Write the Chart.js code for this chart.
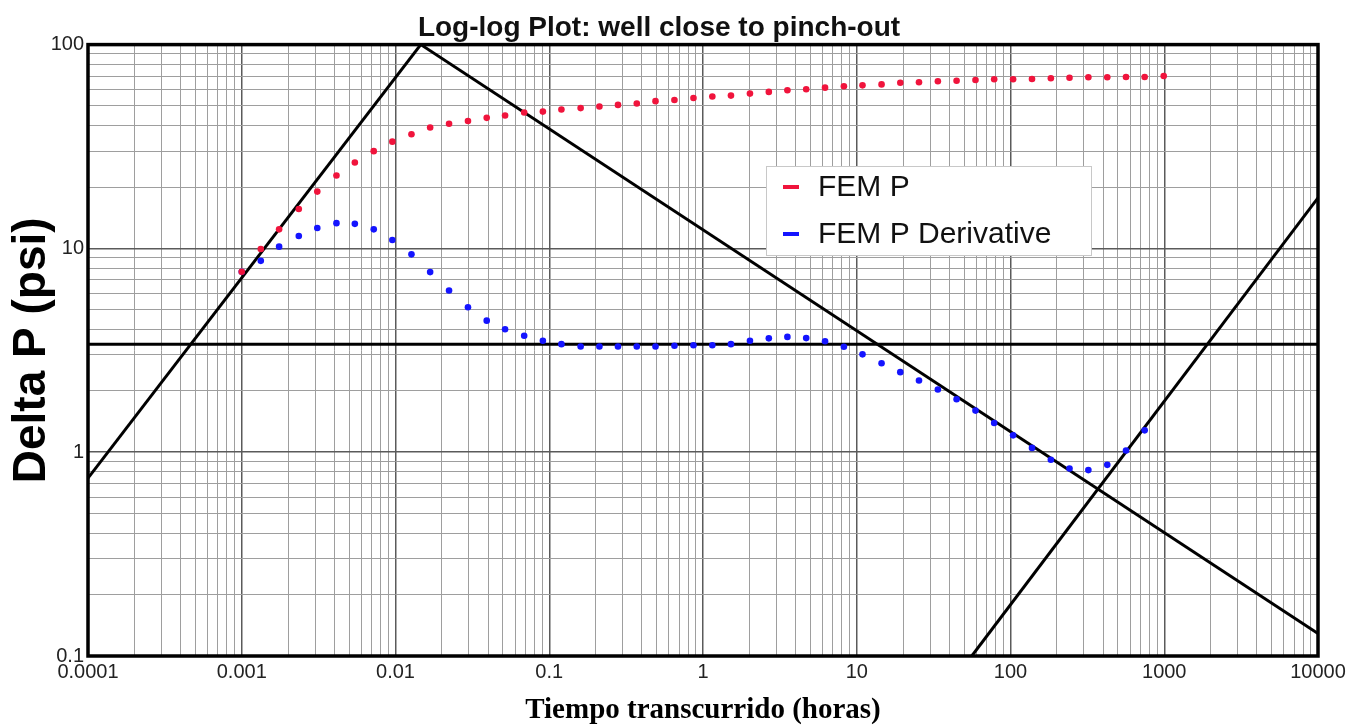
<!DOCTYPE html>
<html>
<head>
<meta charset="utf-8">
<title>Log-log Plot: well close to pinch-out</title>
<script src="https://cdn.jsdelivr.net/npm/chart.js@4.4.1/dist/chart.umd.min.js"></script>
<style>
  html, body { margin: 0; padding: 0; background: #fff; }
  #wrap { position: relative; width: 1351px; height: 728px; }
</style>
</head>
<body>
<div id="wrap"><canvas id="loglog"></canvas></div>
<script>
// elapsed time (hours)
const timeHours = [
  0.00100, 0.00133, 0.00175, 0.00235, 0.00310, 0.00413, 0.00544, 0.00722, 0.00954, 0.0127,
  0.0168, 0.0223, 0.0296, 0.0392, 0.0516, 0.0687, 0.0909, 0.120, 0.160, 0.212,
  0.280, 0.371, 0.491, 0.652, 0.867, 1.15, 1.52, 2.02, 2.68, 3.54,
  4.69, 6.22, 8.25, 10.9, 14.5, 19.2, 25.4, 33.7, 44.6, 59.2,
  78.3, 104, 138, 183, 242, 321, 426, 564, 746, 992
];

// FEM pressure drop (psi)
const femP = [
  7.68, 9.93, 12.4, 15.6, 19.0, 22.8, 26.4, 30.0, 33.4, 36.3,
  39.2, 40.9, 42.2, 43.7, 44.9, 46.4, 46.9, 48.0, 48.8, 49.7,
  50.6, 51.4, 52.8, 53.5, 54.7, 55.6, 56.2, 57.5, 58.6, 59.7,
  60.4, 61.5, 62.5, 63.1, 63.8, 65.0, 65.3, 66.1, 66.5, 67.0,
  67.6, 67.6, 67.8, 68.4, 68.8, 69.2, 69.2, 69.4, 69.4, 70.1
];

// FEM pressure derivative (psi), same times, one point shorter
const femPDerivative = [
  7.68, 8.69, 10.2, 11.5, 12.6, 13.3, 13.2, 12.4, 11.0, 9.35,
  7.65, 6.22, 5.14, 4.42, 4.01, 3.73, 3.52, 3.39, 3.30, 3.30,
  3.30, 3.30, 3.30, 3.33, 3.35, 3.35, 3.39, 3.52, 3.62, 3.68,
  3.63, 3.50, 3.29, 3.02, 2.73, 2.47, 2.25, 2.03, 1.82, 1.60,
  1.39, 1.21, 1.05, 0.918, 0.832, 0.817, 0.867, 1.02, 1.28
];

// straight-line guides (end points)
const unitSlopeT = [0.0001, 0.0146];
const unitSlopeP = [0.746, 100];
const radialFlowT = [0.0001, 10000];
const radialFlowP = [3.39, 3.39];
const halfSlopeT = [0.0146, 10000];
const halfSlopeP = [100, 0.129];
const pinchOutT = [56.0, 10000];
const pinchOutP = [0.1, 17.7];

// axes
const xDecades = [0.0001, 0.001, 0.01, 0.1, 1, 10, 100, 1000, 10000];
const xTickLabels = ["0.0001", "0.001", "0.01", "0.1", "1", "10", "100", "1000", "10000"];
const yDecades = [0.1, 1, 10, 100];
const yTickLabels = ["0.1", "1", "10", "100"];
const minorSteps = [2, 3, 4, 5, 6, 7, 8, 9];

const sans = "'Liberation Sans', Arial, sans-serif";
const serif = "'Liberation Serif', 'Times New Roman', serif";

function toPoints(xs, ys) {
  return ys.map((y, i) => ({ x: xs[i], y: y }));
}

function logTicks(decades) {
  const ticks = [];
  decades.forEach((d, i) => {
    ticks.push({ value: d, major: true, idx: i });
    if (i < decades.length - 1) {
      minorSteps.forEach((m) => ticks.push({ value: d * m, major: false }));
    }
  });
  return ticks;
}

function guide(xs, ys) {
  return {
    data: toPoints(xs, ys),
    showLine: true,
    borderColor: "#000",
    borderWidth: 3,
    pointRadius: 0,
    fill: false,
  };
}

const gridColor = (ctx) => (ctx.tick && ctx.tick.major ? "#5a5a5a" : "#9e9e9e");
const gridWidth = (ctx) => (ctx.tick && ctx.tick.major ? 1.5 : 1);

// frame round the plot + legend box
const frameAndLegend = {
  id: "frameAndLegend",
  afterDraw(chart) {
    const { ctx, chartArea: a } = chart;
    ctx.save();
    ctx.strokeStyle = "#000";
    ctx.lineWidth = 3.5;
    ctx.strokeRect(a.left, a.top, a.right - a.left, a.bottom - a.top);

    const lx = 766, ly = 166, lw = 325, lh = 89;
    ctx.fillStyle = "#fff";
    ctx.fillRect(lx, ly, lw, lh);
    ctx.strokeStyle = "#c8c8c8";
    ctx.lineWidth = 1;
    ctx.strokeRect(lx + 0.5, ly + 0.5, lw, lh);

    const entries = [
      { text: "FEM P", color: "#f0143c", y: 188 },
      { text: "FEM P Derivative", color: "#1414ff", y: 235 },
    ];
    ctx.font = "30px " + sans;
    ctx.textBaseline = "middle";
    ctx.textAlign = "left";
    entries.forEach((e) => {
      ctx.fillStyle = e.color;
      ctx.fillRect(783, e.y - 3, 16, 4);
      ctx.fillStyle = "#111";
      ctx.fillText(e.text, 818, e.y);
    });
    ctx.restore();
  },
};

new Chart(document.getElementById("loglog"), {
  type: "scatter",
  data: {
    datasets: [
      {
        label: "FEM P",
        data: toPoints(timeHours, femP),
        backgroundColor: "#f0143c",
        borderWidth: 0,
        pointRadius: 3.3,
      },
      {
        label: "FEM P Derivative",
        data: toPoints(timeHours, femPDerivative),
        backgroundColor: "#1414ff",
        borderWidth: 0,
        pointRadius: 3.3,
      },
      guide(unitSlopeT, unitSlopeP),
      guide(radialFlowT, radialFlowP),
      guide(halfSlopeT, halfSlopeP),
      guide(pinchOutT, pinchOutP),
    ],
  },
  options: {
    responsive: true,
    maintainAspectRatio: false,
    animation: false,
    layout: { padding: { left: 0, right: 33, top: 0, bottom: 0 } },
    plugins: {
      legend: { display: false },
      tooltip: { enabled: false },
      title: {
        display: true,
        text: "Log-log Plot: well close to pinch-out",
        color: "#111",
        font: { family: sans, size: 28, weight: "bold", lineHeight: 1.2 },
        padding: { top: 11, bottom: 0 },
      },
    },
    scales: {
      x: {
        type: "logarithmic",
        min: 0.0001,
        max: 10000,
        afterBuildTicks: (axis) => { axis.ticks = logTicks(xDecades); },
        afterFit: (axis) => { axis.height = 72; },
        border: { display: false },
        grid: { color: gridColor, lineWidth: gridWidth, drawTicks: false },
        ticks: {
          autoSkip: false,
          maxRotation: 0,
          padding: 4,
          color: "#222",
          font: { family: sans, size: 20 },
          callback: (value, index, ticks) =>
            ticks[index].major ? xTickLabels[ticks[index].idx] : "",
        },
        title: {
          display: true,
          text: "Tiempo transcurrido (horas)",
          color: "#000",
          font: { family: serif, size: 29, weight: "bold", lineHeight: 1.2 },
          padding: { top: 0, bottom: 0 },
        },
      },
      y: {
        type: "logarithmic",
        min: 0.1,
        max: 100,
        afterBuildTicks: (axis) => { axis.ticks = logTicks(yDecades); },
        afterFit: (axis) => { axis.width = 88; },
        border: { display: false },
        grid: { color: gridColor, lineWidth: gridWidth, drawTicks: false },
        ticks: {
          autoSkip: false,
          padding: 4,
          color: "#222",
          font: { family: sans, size: 20 },
          callback: (value, index, ticks) =>
            ticks[index].major ? yTickLabels[ticks[index].idx] : "",
        },
        title: {
          display: true,
          text: "Delta P (psi)",
          color: "#000",
          font: { family: sans, size: 46, weight: "bold", lineHeight: 1.2 },
          padding: { top: 5, bottom: 0 },
        },
      },
    },
  },
  plugins: [frameAndLegend],
});
</script>
</body>
</html>
